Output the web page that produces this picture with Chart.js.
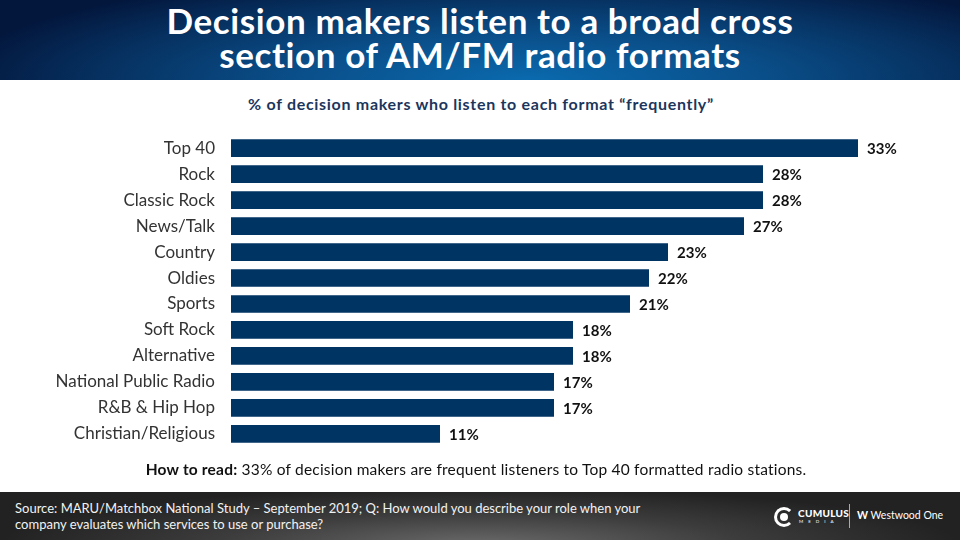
<!DOCTYPE html>
<html>
<head>
<meta charset="utf-8">
<script src="https://cdn.jsdelivr.net/npm/chart.js@4.4.0/dist/chart.umd.min.js"></script>
<style>
  html, body { margin:0; padding:0; }
  body { width:960px; height:540px; position:relative; overflow:hidden; background:#fff; font-family:"Lato", sans-serif; }
  #header { position:absolute; left:0; top:0; width:960px; height:80px;
    background: radial-gradient(ellipse 60% 140% at 55% 100%, #0a6aae 0%, #0a4f8a 40%, #06305f 75%, #03173d 100%); }
  #title { position:absolute; left:0; top:3px; width:960px; text-align:center; color:#fff;
    font-weight:bold; font-size:35px; line-height:34px; letter-spacing:0.6px; }
  #subtitle { position:absolute; left:0; top:94px; width:962px; text-align:center; color:#1b365d;
    font-weight:bold; font-size:16px; letter-spacing:0.7px; }
  #chartBox { position:absolute; left:0; top:109px; width:960px; height:364px; }
  #howto { position:absolute; left:0; top:460px; width:952px; text-align:center; color:#111;
    font-size:15.5px; letter-spacing:0.2px; }
  #footer { position:absolute; left:0; top:492px; width:960px; height:48px;
    background: radial-gradient(ellipse 50% 120% at 50% 110%, #6a6a6a 0%, #3c3c3c 55%, #222 100%); }
  #source { position:absolute; left:15px; top:8px; color:#f2f2f2; font-size:13px; line-height:16px; }
  #logos { position:absolute; left:772px; top:12px; height:26px; color:#fff; }
  .cicon { position:absolute; left:2px; top:3px; width:14px; height:14px; border:3px solid #fff; border-radius:50%; border-right-color:transparent; }
  .cdot { position:absolute; left:8px; top:9px; width:8px; height:8px; background:#fff; border-radius:50%; }
  .cum { position:absolute; left:26px; top:3px; font-weight:900; font-size:10px; letter-spacing:0.3px; }
  .med { position:absolute; left:27px; top:15px; font-size:4.5px; letter-spacing:5px; }
  .div { position:absolute; left:77px; top:0px; width:1px; height:24px; background:#aaa; }
  .ww { position:absolute; left:85px; top:5px; font-size:10.5px; white-space:nowrap; }
</style>
</head>
<body>
<div id="header"><div id="title">Decision makers listen to a broad cross<br>section of AM/FM radio formats</div></div>
<div id="subtitle">% of decision makers who listen to each format “frequently”</div>
<div id="chartBox"><canvas id="chart" width="960" height="364"></canvas></div>
<div id="howto"><b>How to read:</b> 33% of decision makers are frequent listeners to Top 40 formatted radio stations.</div>
<div id="footer">
  <div id="source">Source: MARU/Matchbox National Study – September 2019; Q: How would you describe your role when your<br>company evaluates which services to use or purchase?</div>
  <div id="logos">
    <div class="cicon"></div><div class="cdot"></div>
    <div class="cum">CUMULUS</div><div class="med">MEDIA</div>
    <div class="div"></div>
    <div class="ww"><b>W</b> Westwood One</div>
  </div>
</div>
<script>
const formats = ["Top 40", "Rock", "Classic Rock", "News/Talk", "Country", "Oldies", "Sports",
  "Soft Rock", "Alternative", "National Public Radio", "R&B & Hip Hop", "Christian/Religious"];
const frequentPct = [33, 28, 28, 27, 23, 22, 21, 18, 18, 17, 17, 11];

// draws the "33%" style labels just past the end of each bar
const valueLabels = {
  id: 'valueLabels',
  afterDatasetsDraw(chart) {
    const ctx = chart.ctx;
    const meta = chart.getDatasetMeta(0);
    ctx.save();
    ctx.font = 'bold 15px "Lato", sans-serif';
    ctx.fillStyle = '#111';
    ctx.textAlign = 'left';
    ctx.textBaseline = 'middle';
    meta.data.forEach((bar, i) => {
      ctx.fillText(frequentPct[i] + '%', bar.x + 9, bar.y + 1);
    });
    ctx.restore();
  }
};

new Chart(document.getElementById('chart'), {
  type: 'bar',
  data: {
    labels: formats,
    datasets: [{ data: frequentPct, backgroundColor: '#003462', barPercentage: 0.68, categoryPercentage: 1 }]
  },
  options: {
    indexAxis: 'y',
    responsive: false,
    animation: false,
    layout: { padding: { right: 64, top: 0, bottom: 0, left: 0 } },
    plugins: { legend: { display: false }, tooltip: { enabled: false } },
    scales: {
      x: { display: false, min: 0, max: 35 },
      y: {
        grid: { display: false, drawTicks: false },
        border: { display: false },
        ticks: { color: '#333', padding: 16, font: { family: '"Lato", sans-serif', size: 17 } },
        afterFit(scale) { scale.width = 231; }
      }
    }
  },
  plugins: [valueLabels]
});
</script>
</body>
</html>
